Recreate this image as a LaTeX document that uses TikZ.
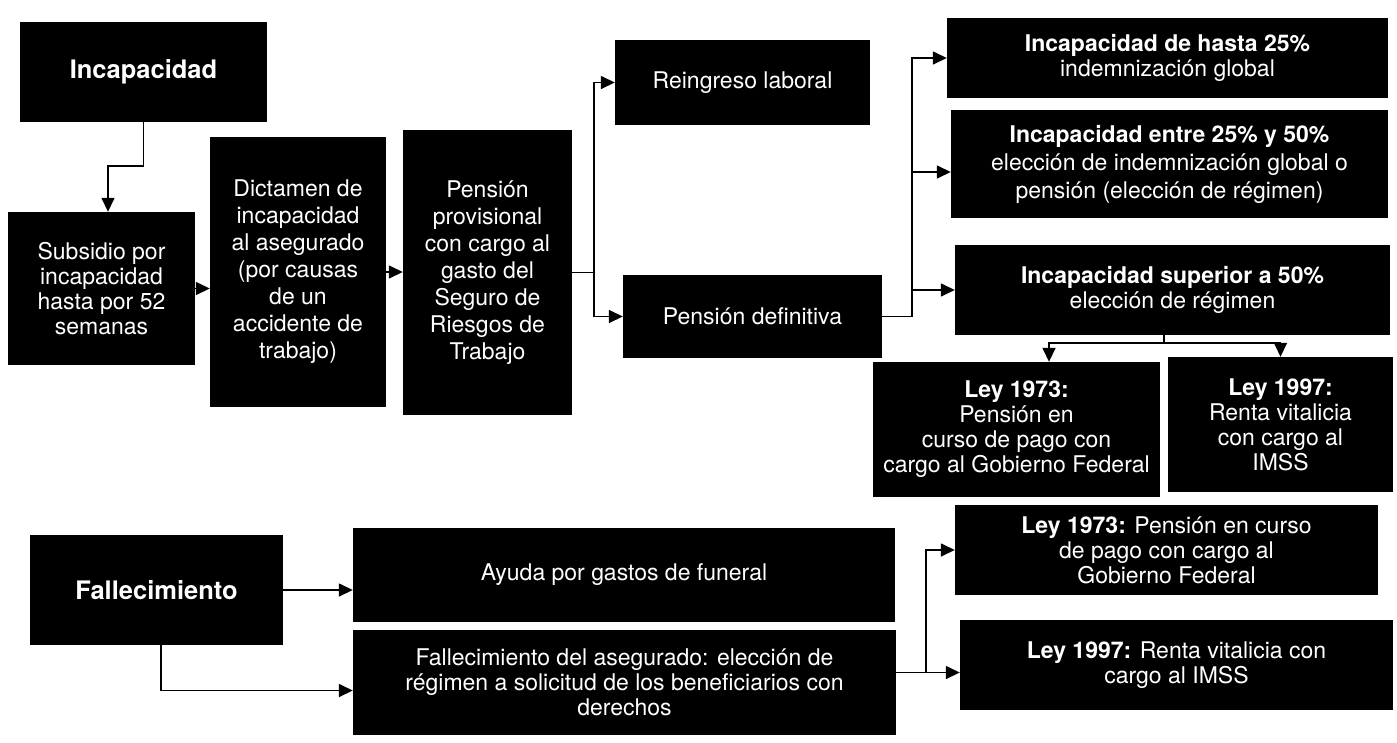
\documentclass[tikz,border=0pt]{standalone}
\usepackage{fontspec}
\setmainfont{TeX Gyre Heros}
\usetikzlibrary{arrows.meta,calc}
\newcommand\mybig{\fontsize{25.5}{27}\selectfont\bfseries}
\begin{document}
\begin{tikzpicture}[x=1pt,y=-1pt,
  box/.style={fill=black,text=white,align=center,inner sep=0pt,font=\fontsize{23}{25}\selectfont},
  ln/.style={line width=1.5pt},
  arr/.style={line width=1.5pt,-{Triangle[length=14pt,width=13pt]}}]
\useasboundingbox (0,0) rectangle (1397,742);
% top section
\node[box,minimum width=247pt,minimum height=100pt,font=\mybig] (inc) at (143.5,72) {Incapacidad};
\node[box,minimum width=187pt,minimum height=153pt] (sub) at (101.5,288.5) {Subsidio por\\incapacidad\\hasta por 52\\semanas};
\node[box,minimum width=176pt,minimum height=270pt,font=\fontsize{23}{27}\selectfont] (dic) at (298,272) {Dictamen de\\incapacidad\\al asegurado\\(por causas\\de un\\accidente de\\trabajo)};
\node[box,minimum width=169pt,minimum height=285pt,font=\fontsize{23}{27}\selectfont] (prov) at (487.5,272.5) {Pensión\\provisional\\con cargo al\\gasto del\\Seguro de\\Riesgos de\\Trabajo};
\node[box,minimum width=255pt,minimum height=85pt] (rein) at (742.5,82.5) {Reingreso laboral};
\node[box,minimum width=259pt,minimum height=83pt] (pdef) at (752.5,316.5) {Pensión definitiva};
\node[box,minimum width=441pt,minimum height=80pt] (b25) at (1167.5,58) {\textbf{Incapacidad de hasta 25\%}\\indemnización global};
\node[box,minimum width=437pt,minimum height=108pt,font=\fontsize{23}{28}\selectfont] (b2550) at (1169.5,164) {\textbf{Incapacidad entre 25\% y 50\%}\\elección de indemnización global o\\pensión (elección de régimen)};
\node[box,minimum width=435pt,minimum height=90pt] (b50) at (1172.5,290) {\textbf{Incapacidad superior a 50\%}\\elección de régimen};
\node[box,minimum width=287pt,minimum height=135pt] (l73) at (1016.5,429.5) {\textbf{Ley 1973:}\\Pensión en\\curso de pago con\\cargo al Gobierno Federal};
\node[box,minimum width=225pt,minimum height=135pt] (l97) at (1280.5,424.5) {\textbf{Ley 1997:}\\Renta vitalicia\\con cargo al\\IMSS};
% bottom section
\node[box,minimum width=253pt,minimum height=110pt,font=\mybig] (fal) at (156.5,590) {Fallecimiento};
\node[box,minimum width=542pt,minimum height=94pt] (ayu) at (624,575) {Ayuda por gastos de funeral};
\node[box,minimum width=543pt,minimum height=105pt] (fda) at (624.5,682.5) {Fallecimiento del asegurado: elección de\\régimen a solicitud de los beneficiarios con\\derechos};
\node[box,minimum width=423pt,minimum height=90pt] (fl73) at (1166.5,550) {\textbf{Ley 1973:} Pensión en curso\\de pago con cargo al\\Gobierno Federal};
\node[box,minimum width=433pt,minimum height=90pt] (fl97) at (1176.5,665) {\textbf{Ley 1997:} Renta vitalicia con\\cargo al IMSS};
% connectors top
\draw[arr] (inc.south) -- ++(0,44) -| ([xshift=6.5pt]sub.north);
\draw[arr] (sub.east) -- (dic.west |- sub.east);
\draw[arr] (dic.east) -- (prov.west |- dic.east);
\coordinate (j1) at (594,272.5);
\draw[ln] (prov.east) -- (j1);
\draw[arr] (j1) |- (rein.west);
\draw[arr] (j1) |- (pdef.west);
\coordinate (j2) at (912,316.5);
\draw[ln] (pdef.east) -- (j2);
\draw[arr] (j2) |- (b25.west);
\draw[arr] (j2) |- ([yshift=-8pt]b2550.west);
\draw[arr] (j2) |- (b50.west);
\coordinate (j3) at (1164,343);
\draw[ln] (b50.south -| j3) -- (j3);
\draw[arr] (j3) -| ([xshift=32.5pt]l73.north);
\draw[arr] (j3) -| (l97.north);
% connectors bottom
\draw[arr] (fal.east) -- (ayu.west |- fal.east);
\draw[arr] ([xshift=4.5pt]fal.south) |- ([yshift=-8pt]fda.west);
\coordinate (j4) at (926,0);
\coordinate (k) at ([yshift=10pt]fda.east);
\draw[arr] (k) -- (fl97.west |- k);
\draw[arr] (k -| j4) |- (fl73.west);
\end{tikzpicture}
\end{document}
